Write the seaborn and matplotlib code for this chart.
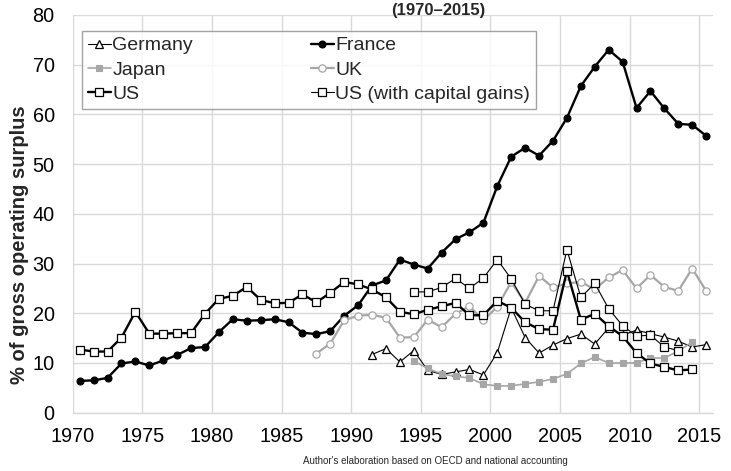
import numpy as np
import pandas as pd
import matplotlib
matplotlib.use("Agg")
import matplotlib.pyplot as plt
import seaborn as sns

# Dividends paid as share of gross operating surplus, by country
france_start = 1970
france = [6.4, 6.5, 7.0, 9.9, 10.3, 9.5, 10.5, 11.6, 13.0, 13.2,
          16.2, 18.8, 18.5, 18.6, 18.8, 18.2, 16.1, 15.8, 16.4, 19.5,
          21.6, 25.6, 26.6, 30.8, 29.8, 29.0, 32.2, 34.9, 36.3, 38.2,
          45.6, 51.5, 53.3, 51.7, 54.7, 59.3, 65.7, 69.6, 73.0, 70.6,
          61.3, 64.7, 61.2, 58.1, 57.9, 55.7]

us_start = 1970
us = [12.7, 12.3, 12.3, 15.1, 20.3, 15.9, 15.9, 16.0, 16.0, 19.9,
      22.9, 23.5, 25.3, 22.7, 22.0, 22.1, 23.8, 22.2, 24.1, 26.3,
      25.8, 24.8, 23.2, 20.3, 19.8, 20.7, 21.4, 22.1, 19.6, 19.6,
      22.5, 21.1, 18.2, 16.8, 16.7, 28.5, 18.7, 19.9, 17.4, 15.4,
      12.0, 9.9, 9.2, 8.5, 8.7]

us_cg_start = 1994
us_cg = [24.3, 24.3, 25.2, 27.0, 25.0, 27.1, 30.8, 26.9, 21.8, 20.5,
         20.5, 32.8, 23.2, 26.0, 20.9, 17.5, 15.4, 15.6, 13.2, 12.5]

germany_start = 1991
germany = [11.7, 12.9, 10.2, 12.5, 8.5, 7.7, 8.2, 8.7, 7.6, 12.1,
           21.1, 15.1, 12.0, 13.6, 14.9, 15.8, 13.8, 17.1, 15.6, 16.6,
           15.9, 15.2, 14.4, 13.2, 13.7]

japan_start = 1994
japan = [10.4, 8.9, 7.8, 7.3, 7.0, 5.7, 5.4, 5.4, 5.8, 6.2,
         6.8, 7.8, 9.9, 11.2, 10.0, 10.0, 10.0, 11.0, 11.0, 12.4, 14.2]

uk_start = 1987
uk = [11.9, 13.9, 18.6, 19.5, 19.7, 19.1, 15.1, 15.2, 18.7, 17.2,
      19.9, 21.4, 18.6, 21.3, 26.3, 22.1, 27.5, 25.2, 26.0, 26.3,
      24.8, 27.2, 28.7, 25.0, 27.7, 25.3, 24.5, 29.0, 24.5]

x_ticks = [1970, 1975, 1980, 1985, 1990, 1995, 2000, 2005, 2010, 2015]
y_ticks = [0, 10, 20, 30, 40, 50, 60, 70, 80]

GRAY = "#a6a6a6"

series = [
    ("Germany", germany_start, germany,
     dict(color="black", lw=0.8, marker="^", ms=6.2, mfc="white", mec="black", mew=0.9)),
    ("France", france_start, france,
     dict(color="black", lw=1.7, marker="o", ms=5.0, mfc="black", mec="black", mew=0.8)),
    ("Japan", japan_start, japan,
     dict(color=GRAY, lw=1.2, marker="s", ms=5.0, mfc=GRAY, mec=GRAY, mew=0.8)),
    ("UK", uk_start, uk,
     dict(color=GRAY, lw=1.6, marker="o", ms=5.2, mfc="white", mec=GRAY, mew=0.9)),
    ("US", us_start, us,
     dict(color="black", lw=1.7, marker="s", ms=6.0, mfc="white", mec="black", mew=0.9)),
    ("US (with capital gains)", us_cg_start, us_cg,
     dict(color="black", lw=0.8, marker="s", ms=6.0, mfc="white", mec="black", mew=0.9)),
]

sns.set_style("white")
plt.rcParams["font.family"] = ["Liberation Sans", "DejaVu Sans"]

fig = plt.figure(figsize=(7.31, 4.71), dpi=100)
ax = fig.add_axes([0.0995, 0.1238, 0.876, 0.8444])

for name, start, vals, kw in series:
    yrs = np.arange(start, start + len(vals))
    df = pd.DataFrame({"year": yrs, "value": vals})
    # annual observations sit at mid-year on the time axis
    df["t"] = df["year"] + 0.5
    sns.lineplot(data=df, x="t", y="value", ax=ax, label=name,
                 color=kw["color"], linewidth=kw["lw"], marker=kw["marker"],
                 markersize=kw["ms"], markerfacecolor=kw["mfc"],
                 markeredgecolor=kw["mec"], markeredgewidth=kw["mew"],
                 legend=False)

ax.set_xlim(1970, 2016)
ax.set_ylim(0, 80)
ax.set_xticks(x_ticks)
ax.set_xticklabels([str(t) for t in x_ticks])
ax.set_yticks(y_ticks)
ax.set_yticklabels([str(t) for t in y_ticks])
ax.grid(True, color="#d9d9d9", linewidth=1.0)
ax.set_axisbelow(True)
for side in ["top", "right", "left"]:
    ax.spines[side].set_visible(False)
ax.spines["bottom"].set_color("#d9d9d9")
ax.spines["bottom"].set_linewidth(1.0)
ax.tick_params(axis="both", length=0, labelsize=14.3, colors="black")
ax.tick_params(axis="y", pad=13)
ax.tick_params(axis="x", pad=10)
ax.set_xlabel("")
ax.set_ylabel("")

handles, labels = ax.get_legend_handles_labels()
lookup = dict(zip(labels, handles))
order = ["Germany", "Japan", "US", "France", "UK", "US (with capital gains)"]
leg = fig.legend([lookup[k] for k in order], order, ncol=2,
                 loc="upper left", bbox_to_anchor=(82 / 731, 1 - 31 / 471),
                 borderaxespad=0, fontsize=14.0, frameon=True, fancybox=False,
                 handlelength=1.18, handletextpad=0.08, columnspacing=6.05,
                 labelspacing=0.34, borderpad=0.3)
leg.get_frame().set_edgecolor("#8c8c8c")
leg.get_frame().set_linewidth(1.0)

fig.text(20 / 731, 1 - 245 / 471, "% of gross operating surplus",
         rotation=90, ha="center", va="center", fontsize=14.5, fontweight="bold")
fig.text(438 / 731, 1 - 14.5 / 471, "(1970\u20132015)", ha="center", va="baseline",
         fontsize=12, fontweight="bold")
fig.text(435 / 731, 1 - 461 / 471,
         "Author's elaboration based on OECD and national accounting",
         ha="center", va="center", fontsize=7.0)

fig.savefig("out.png", dpi=100)
